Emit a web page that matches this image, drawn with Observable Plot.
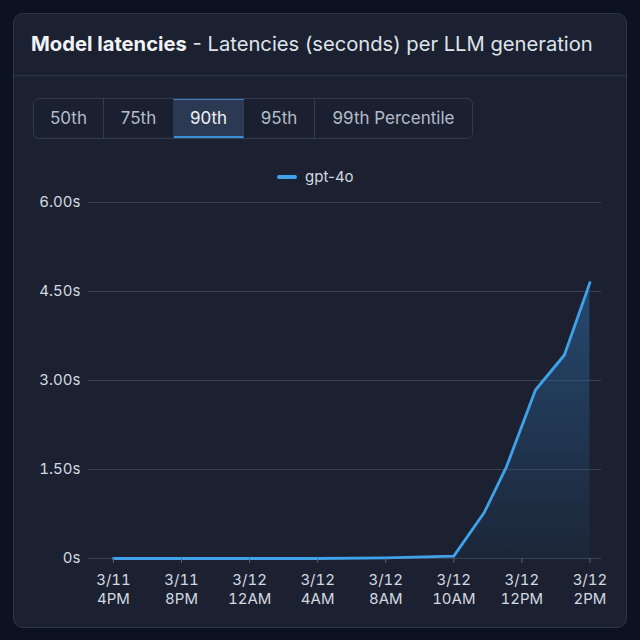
<!DOCTYPE html>
<html>
<head>
<meta charset="utf-8">
<script src="https://cdn.jsdelivr.net/npm/d3@7"></script>
<script src="https://cdn.jsdelivr.net/npm/@observablehq/plot@0.6"></script>
<style>
  html, body { margin: 0; padding: 0; }
  body { width: 640px; height: 640px; background: #0c1220; position: relative; overflow: hidden; font-family: Inter, "Noto Sans", sans-serif; }
  #card { position: absolute; left: 13px; top: 13px; width: 612px; height: 613px; background: #1b2131; border: 1px solid #2c364a; border-radius: 10px; }
  #title { position: absolute; left: 31px; top: 31px; font-size: 20.2px; color: #dfe4ea; white-space: nowrap; }
  #title b { color: #f1f3f6; font-weight: 700; }
  #divider { position: absolute; left: 14px; top: 75px; width: 612px; height: 1px; background: #2c364a; }
  #tabs { position: absolute; left: 33px; top: 98px; height: 39px; display: flex; border: 1px solid #323c50; border-radius: 6px; overflow: hidden; background: #1a2030; }
  .tab { height: 39px; line-height: 39px; text-align: center; font-size: 17px; color: #b4bdca; border-right: 1px solid #323c50; box-sizing: border-box; }
  .tab:last-child { border-right: none; }
  .tab.active { background: #2b3a52; color: #eef2f7; border-top: 1px solid #3f82c4; border-bottom: 2px solid #3a8fd8; line-height: 36px; }
  #legend { position: absolute; top: 167px; left: 277px; display: flex; align-items: center; font-size: 15px; color: #d4d9e0; }
  #legend .sw { width: 20px; height: 4px; border-radius: 2px; background: #3fa2ea; margin-right: 8px; }
  #chart { position: absolute; left: 0; top: 160px; }
</style>
</head>
<body>
<div id="card"></div>
<div id="title"><b>Model latencies</b> - Latencies (seconds) per LLM generation</div>
<div id="divider"></div>
<div id="tabs"></div>
<div id="legend"><div class="sw"></div><span>gpt-4o</span></div>
<div id="chart"></div>
<script>
// ---- data ----
const tabLabels = ["50th", "75th", "90th", "95th", "99th Percentile"];
const activeTab = "90th";
const seriesName = "gpt-4o";
// hours since 3/11 4PM
const tickHours = [0, 4, 8, 12, 16, 18, 20, 22];
const tickLabels = ["3/11\n4PM", "3/11\n8PM", "3/12\n12AM", "3/12\n4AM", "3/12\n8AM", "3/12\n10AM", "3/12\n12PM", "3/12\n2PM"];
const pointHours = [0, 4, 8, 12, 16, 18, 18.9, 19.55, 20.4, 21.25, 22];
const latencies = [0, 0, 0, 0, 0.01, 0.04, 0.78, 1.55, 2.84, 3.43, 4.65];
const yTicks = [0, 1.5, 3, 4.5, 6];

// ---- tabs ----
const tabWidths = { "50th": 70, "75th": 70, "90th": 70, "95th": 71, "99th Percentile": 157 };
const tabs = document.getElementById("tabs");
for (const t of tabLabels) {
  const d = document.createElement("div");
  d.className = "tab" + (t === activeTab ? " active" : "");
  d.style.width = tabWidths[t] + "px";
  d.textContent = t;
  tabs.appendChild(d);
}
document.querySelector("#legend span").textContent = seriesName;

// piecewise mapping hours -> evenly spaced tick slots (axis is not linear in time)
const slot = d3.scaleLinear().domain(tickHours).range(d3.range(tickHours.length));
const data = pointHours.map((h, i) => ({ x: slot(h), y: latencies[i] }));

const plot = Plot.plot({
  width: 640,
  height: 458,
  marginLeft: 88,
  marginRight: 39,
  marginTop: 42,
  marginBottom: 60,
  style: { background: "transparent", color: "#d4d9e0", fontSize: "15px", fontFamily: "Inter, 'Noto Sans', sans-serif" },
  x: { type: "linear", domain: [-0.367, 7.17] },
  y: { domain: [0, 6] },
  marks: [
    Plot.ruleY(yTicks, { stroke: "#3a4354", strokeWidth: 1 }),
    Plot.areaY(data, { x: "x", y: "y", fill: "url(#areaGrad)" }),
    Plot.lineY(data, { x: "x", y: "y", stroke: "#3fa2ea", strokeWidth: 2.8, strokeLinejoin: "round", strokeLinecap: "round" }),
    Plot.axisY({ ticks: yTicks, tickSize: 0, tickPadding: 8, fontSize: 15, label: null,
      tickFormat: d => d === 0 ? "0s" : d.toFixed(2) + "s", fill: "#d4d9e0" }),
    Plot.axisX({ ticks: d3.range(tickLabels.length), tickSize: 5, tickPadding: 8, fontSize: 15, label: null,
      stroke: "#5a6373", fill: "#d4d9e0", lineHeight: 1.27,
      tickFormat: i => tickLabels[i] })
  ]
});

const ns = "http://www.w3.org/2000/svg";
const defs = document.createElementNS(ns, "defs");
defs.innerHTML = `<linearGradient id="areaGrad" x1="0" y1="0" x2="0" y2="1">
  <stop offset="0%" stop-color="#2c6296" stop-opacity="0.62"/>
  <stop offset="100%" stop-color="#2a5f8f" stop-opacity="0.08"/>
</linearGradient>`;
plot.insertBefore(defs, plot.firstChild);
document.getElementById("chart").appendChild(plot);
</script>
</body>
</html>
